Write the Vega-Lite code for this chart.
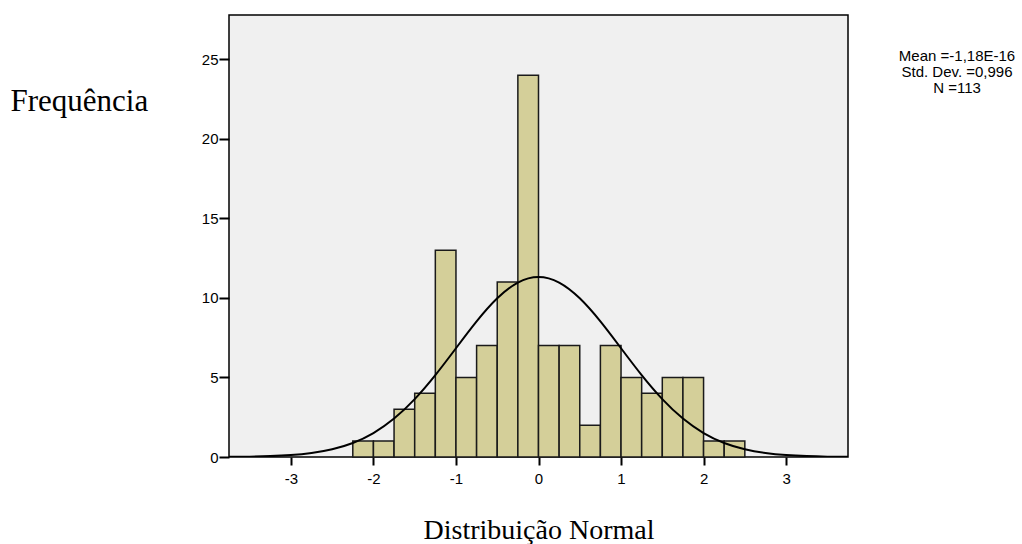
{
  "$schema": "https://vega.github.io/schema/vega-lite/v6.json",
  "autosize": {"type": "none"},
  "padding": {"left": 229, "top": 15, "right": 174, "bottom": 87},
  "width": 619,
  "height": 442,
  "background": "#ffffff",
  "config": {
    "view": {"fill": "#f0f0f0", "stroke": "#000000", "strokeWidth": 1.5},
    "axis": {"grid": false, "domain": false, "tickColor": "#000000", "tickWidth": 2, "labelColor": "#000000", "labelFont": "Liberation Sans", "labelFontSize": 15, "titleFont": "Liberation Serif", "titleFontWeight": "normal", "titleColor": "#000000"}
  },
  "title": {
    "text": ["Mean =-1,18E-16", "Std. Dev. =0,996", "N =113"],
    "anchor": "end",
    "frame": "group",
    "orient": "top",
    "align": "center",
    "baseline": "alphabetic",
    "dx": 109,
    "dy": 93,
    "offset": 0,
    "font": "Liberation Sans",
    "fontSize": 15,
    "fontWeight": "normal",
    "color": "#000000",
    "lineHeight": 16
  },
  "datasets": {
    "bins": [
      {"x0": -2.25, "x1": -2.0, "count": 1},
      {"x0": -2.0, "x1": -1.75, "count": 1},
      {"x0": -1.75, "x1": -1.5, "count": 3},
      {"x0": -1.5, "x1": -1.25, "count": 4},
      {"x0": -1.25, "x1": -1.0, "count": 13},
      {"x0": -1.0, "x1": -0.75, "count": 5},
      {"x0": -0.75, "x1": -0.5, "count": 7},
      {"x0": -0.5, "x1": -0.25, "count": 11},
      {"x0": -0.25, "x1": 0.0, "count": 24},
      {"x0": 0.0, "x1": 0.25, "count": 7},
      {"x0": 0.25, "x1": 0.5, "count": 7},
      {"x0": 0.5, "x1": 0.75, "count": 2},
      {"x0": 0.75, "x1": 1.0, "count": 7},
      {"x0": 1.0, "x1": 1.25, "count": 5},
      {"x0": 1.25, "x1": 1.5, "count": 4},
      {"x0": 1.5, "x1": 1.75, "count": 5},
      {"x0": 1.75, "x1": 2.0, "count": 5},
      {"x0": 2.0, "x1": 2.25, "count": 1},
      {"x0": 2.25, "x1": 2.5, "count": 1}
    ],
    "curve": [
      {"x": -3.75, "y": 0.0094},
      {"x": -3.5, "y": 0.0236},
      {"x": -3.25, "y": 0.0552},
      {"x": -3.0, "y": 0.1212},
      {"x": -2.75, "y": 0.2503},
      {"x": -2.5, "y": 0.4847},
      {"x": -2.25, "y": 0.882},
      {"x": -2.0, "y": 1.507},
      {"x": -1.75, "y": 2.417},
      {"x": -1.5, "y": 3.64},
      {"x": -1.25, "y": 5.148},
      {"x": -1.0, "y": 6.836},
      {"x": -0.75, "y": 8.523},
      {"x": -0.5, "y": 9.975},
      {"x": -0.25, "y": 10.964},
      {"x": 0.0, "y": 11.315},
      {"x": 0.25, "y": 10.964},
      {"x": 0.5, "y": 9.975},
      {"x": 0.75, "y": 8.523},
      {"x": 1.0, "y": 6.836},
      {"x": 1.25, "y": 5.148},
      {"x": 1.5, "y": 3.64},
      {"x": 1.75, "y": 2.417},
      {"x": 2.0, "y": 1.507},
      {"x": 2.25, "y": 0.882},
      {"x": 2.5, "y": 0.4847},
      {"x": 2.75, "y": 0.2503},
      {"x": 3.0, "y": 0.1212},
      {"x": 3.25, "y": 0.0552},
      {"x": 3.5, "y": 0.0236},
      {"x": 3.75, "y": 0.0094}
    ]
  },
  "layer": [
    {
      "data": {"name": "bins"},
      "mark": {"type": "bar", "fill": "#d4cf99", "stroke": "#1a1a1a", "strokeWidth": 1.5},
      "encoding": {
        "x": {"field": "x0", "type": "quantitative", "scale": {"domain": [-3.75, 3.75], "nice": false, "zero": false},
          "axis": {"values": [-3, -2, -1, 0, 1, 2, 3], "labelExpr": "datum.value + ''", "tickSize": 8, "labelPadding": 6, "title": "Distribuição Normal", "titleFontSize": 28, "titleBaseline": "alphabetic", "titleY": 81}},
        "x2": {"field": "x1"},
        "y": {"field": "count", "type": "quantitative", "scale": {"domain": [0, 27.78], "nice": false},
          "axis": {"values": [0, 5, 10, 15, 20, 25], "tickSize": 10, "labelPadding": 1, "title": "Frequência", "titleFontSize": 31, "titleAngle": 0, "titleAlign": "left", "titleBaseline": "alphabetic", "titleX": -219, "titleY": 95}},
        "y2": {"datum": 0}
      }
    },
    {
      "data": {"name": "curve"},
      "mark": {"type": "line", "color": "#000000", "strokeWidth": 2, "interpolate": "natural", "clip": true},
      "encoding": {
        "x": {"field": "x", "type": "quantitative"},
        "y": {"field": "y", "type": "quantitative"}
      }
    }
  ]
}
